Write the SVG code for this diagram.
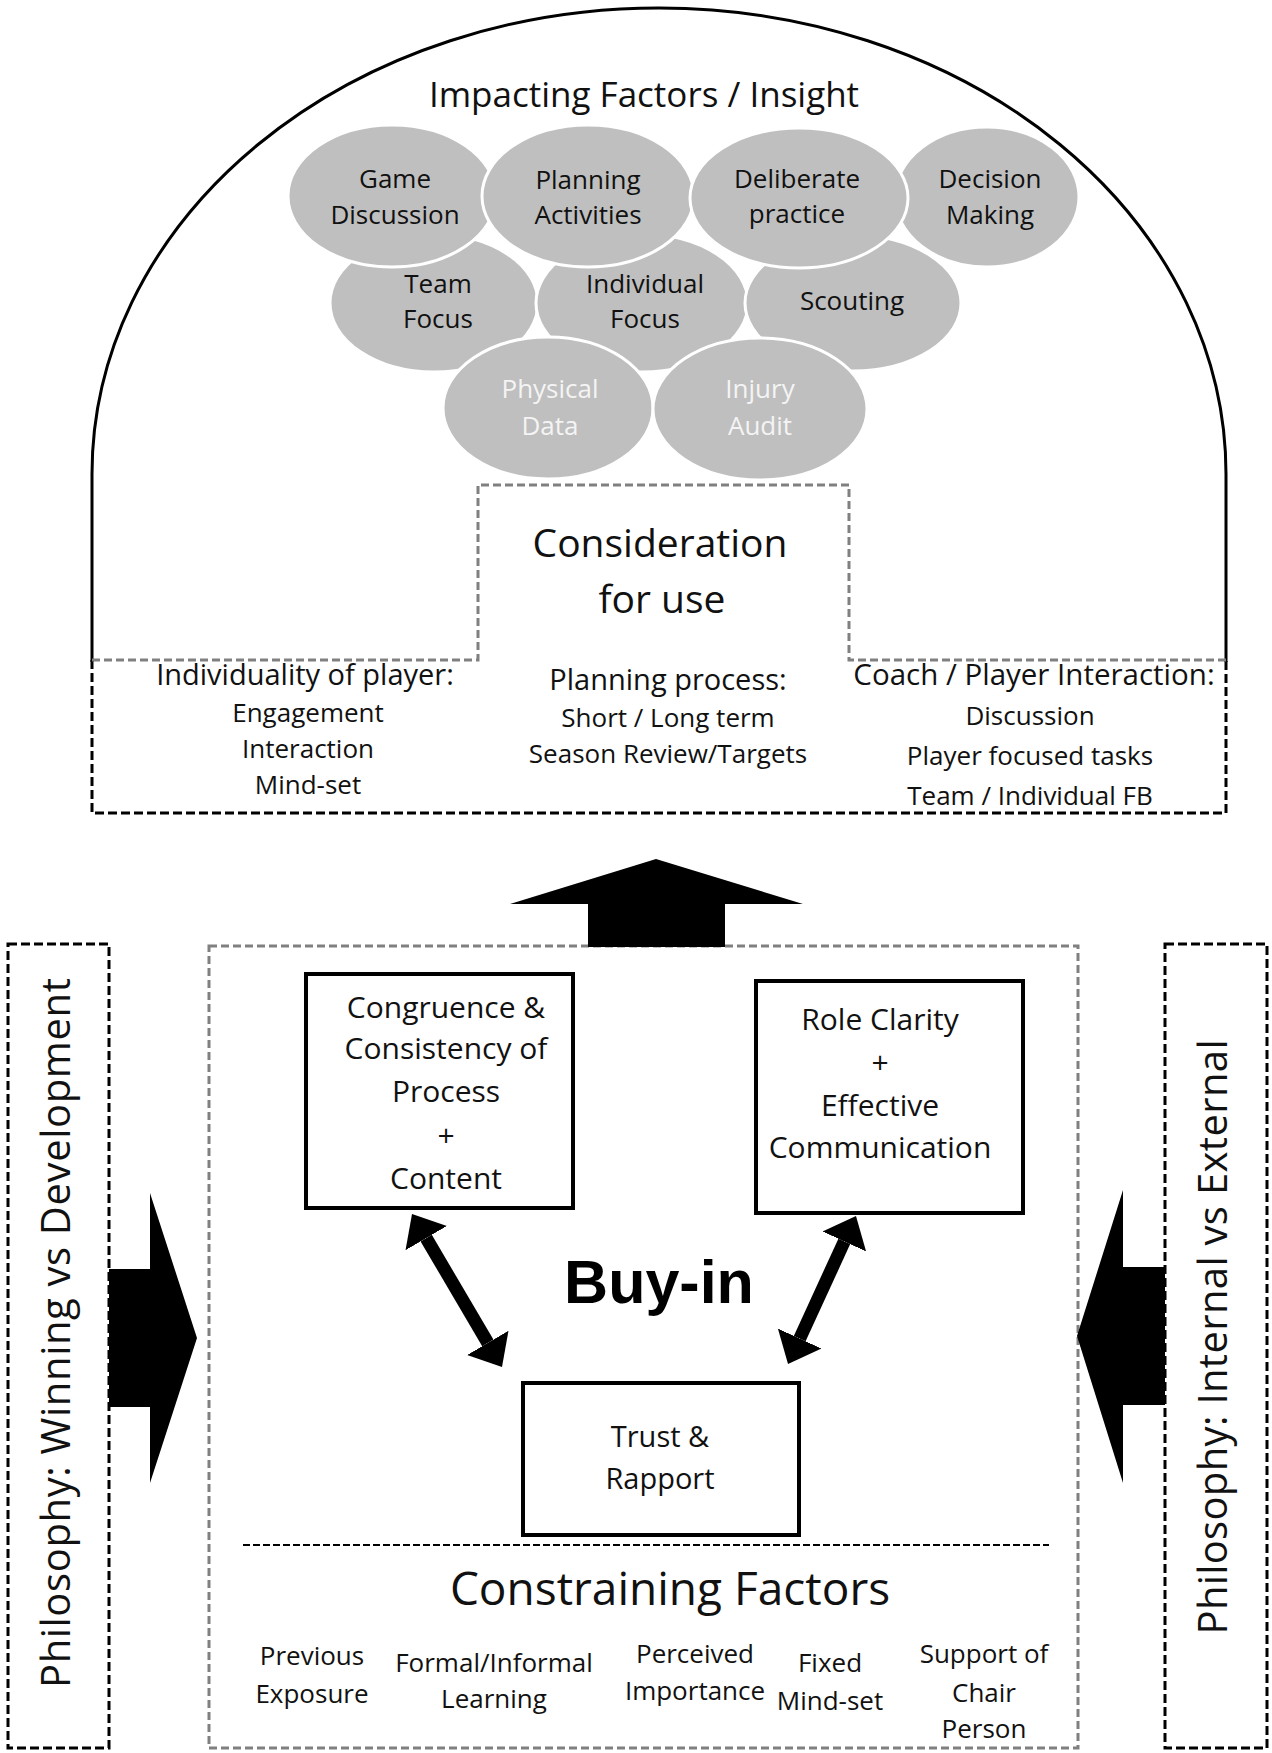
<svg xmlns="http://www.w3.org/2000/svg" width="1272" height="1753" viewBox="0 0 1272 1753">
<style>
  .t { font-family: "Open Sans", "Liberation Sans", sans-serif; fill: #111; text-anchor: middle; }
  .tw { font-family: "Open Sans", "Liberation Sans", sans-serif; fill: #f4f4f4; text-anchor: middle; }
  .c26 { font-size: 26px; }
  .circ { fill: #bfbfbf; stroke: #ffffff; stroke-width: 3; }
  .box { fill: #ffffff; stroke: #000; stroke-width: 4; }
  .gdash { fill: none; stroke: #808080; stroke-width: 3; stroke-dasharray: 8 4; }
  .bdash { fill: none; stroke: #000; stroke-width: 3; stroke-dasharray: 9 4; }
  .solid { fill: none; stroke: #000; stroke-width: 3; }
  .block { fill: #000; stroke: none; }
  .dbl { stroke: #000; stroke-width: 13; fill: none; marker-start: url(#head); marker-end: url(#head); }
</style>
<defs>
  <marker id="head" markerUnits="userSpaceOnUse" viewBox="0 -25 30 50" refX="0" refY="0" markerWidth="30" markerHeight="50" orient="auto-start-reverse">
    <path d="M0,-24 L28,0 L0,24 Z" fill="#000"/>
  </marker>
</defs>
<rect x="0" y="0" width="1272" height="1753" fill="#ffffff"/>

<!-- Top panel: Impacting Factors / Insight -->
<g id="impacting-panel">
  <path class="solid" d="M92,662 L92,474 A567,466 0 0 1 1226,474 L1226,662"/>
  <path class="bdash" d="M92,660 L92,813 L1226,813 L1226,660"/>
  <text class="t" x="644" y="107" font-size="35">Impacting Factors / Insight</text>
</g>

<g id="team-focus">
  <ellipse class="circ" cx="434" cy="303" rx="104" ry="69"/>
  <text class="t c26" x="438" y="293">Team</text>
  <text class="t c26" x="438" y="328">Focus</text>
</g>
<g id="individual-focus">
  <ellipse class="circ" cx="642" cy="303" rx="106" ry="69"/>
  <text class="t c26" x="645" y="293">Individual</text>
  <text class="t c26" x="645" y="328">Focus</text>
</g>
<g id="scouting">
  <ellipse class="circ" cx="853" cy="303" rx="108" ry="68"/>
  <text class="t c26" x="852" y="310">Scouting</text>
</g>
<g id="physical-data">
  <ellipse class="circ" cx="548" cy="408" rx="105" ry="71"/>
  <text class="tw c26" x="550" y="398">Physical</text>
  <text class="tw c26" x="550" y="435">Data</text>
</g>
<g id="injury-audit">
  <ellipse class="circ" cx="760" cy="409" rx="107" ry="71"/>
  <text class="tw c26" x="760" y="398">Injury</text>
  <text class="tw c26" x="760" y="435">Audit</text>
</g>
<g id="game-discussion">
  <ellipse class="circ" cx="392" cy="196" rx="104" ry="71"/>
  <text class="t c26" x="395" y="188">Game</text>
  <text class="t c26" x="395" y="224">Discussion</text>
</g>
<g id="planning-activities">
  <ellipse class="circ" cx="588" cy="196" rx="106" ry="71"/>
  <text class="t c26" x="588" y="189">Planning</text>
  <text class="t c26" x="588" y="224">Activities</text>
</g>
<g id="decision-making">
  <ellipse class="circ" cx="987" cy="197" rx="92" ry="70"/>
  <text class="t c26" x="990" y="188">Decision</text>
  <text class="t c26" x="990" y="224">Making</text>
</g>
<g id="deliberate-practice">
  <ellipse class="circ" cx="799" cy="198" rx="109" ry="70"/>
  <text class="t c26" x="797" y="188">Deliberate</text>
  <text class="t c26" x="797" y="223">practice</text>
</g>

<g id="consideration-for-use">
  <path class="gdash" d="M92,660 L478,660 L478,485 L849,485 L849,660 L1226,660"/>
  <text class="t" x="660" y="557" font-size="39">Consideration</text>
  <text class="t" x="662" y="613" font-size="39">for use</text>
</g>

<g id="individuality">
  <text class="t" x="305" y="685" font-size="29">Individuality of player:</text>
  <text class="t c26" x="308" y="722">Engagement</text>
  <text class="t c26" x="308" y="758">Interaction</text>
  <text class="t c26" x="308" y="794">Mind-set</text>
</g>
<g id="planning-process">
  <text class="t" x="668" y="690" font-size="29">Planning process:</text>
  <text class="t c26" x="668" y="727">Short / Long term</text>
  <text class="t c26" x="668" y="763">Season Review/Targets</text>
</g>
<g id="coach-player">
  <text class="t" x="1034" y="685" font-size="29.5">Coach / Player Interaction:</text>
  <text class="t c26" x="1030" y="725">Discussion</text>
  <text class="t c26" x="1030" y="765">Player focused tasks</text>
  <text class="t c26" x="1030" y="805">Team / Individual FB</text>
</g>

<!-- Lower panel -->
<g id="philosophy-winning">
  <rect class="bdash" x="8" y="944" width="101" height="804"/>
  <text class="t" font-size="40" transform="translate(70,1333) rotate(-90)" x="0" y="0" textLength="710" lengthAdjust="spacing">Philosophy: Winning vs Development</text>
</g>
<g id="philosophy-internal">
  <rect class="bdash" x="1165" y="944" width="102" height="804"/>
  <text class="t" font-size="40" transform="translate(1227,1337) rotate(-90)" x="0" y="0" textLength="595" lengthAdjust="spacing">Philosophy: Internal vs External</text>
</g>
<g id="buy-in">
  <rect class="gdash" x="209" y="946" width="869" height="802"/>
  <text x="659" y="1303" font-family="'Liberation Sans', Arial, sans-serif" font-weight="bold" font-size="61" text-anchor="middle" fill="#000">Buy-in</text>
</g>
<g id="congruence">
  <rect class="box" x="306" y="974" width="267" height="234"/>
  <text class="t" font-size="30" x="446" y="1018">Congruence &amp;</text>
  <text class="t" font-size="30" x="446" y="1059">Consistency of</text>
  <text class="t" font-size="30" x="446" y="1102">Process</text>
  <text class="t" font-size="30" x="446" y="1146">+</text>
  <text class="t" font-size="30" x="446" y="1189">Content</text>
</g>
<g id="role-clarity">
  <rect class="box" x="756" y="981" width="267" height="232"/>
  <text class="t" font-size="30" x="880" y="1030">Role Clarity</text>
  <text class="t" font-size="30" x="880" y="1073">+</text>
  <text class="t" font-size="30" x="880" y="1116">Effective</text>
  <text class="t" font-size="30" x="880" y="1158">Communication</text>
</g>
<g id="trust-rapport">
  <rect class="box" x="523" y="1383" width="276" height="152"/>
  <text class="t" font-size="29" x="660" y="1447">Trust &amp;</text>
  <text class="t" font-size="29" x="660" y="1489">Rapport</text>
</g>
<g id="constraining-factors">
  <line x1="243" y1="1545" x2="1049" y2="1545" stroke="#000" stroke-width="2" stroke-dasharray="7 3"/>
  <text class="t" font-size="46" x="670" y="1605">Constraining Factors</text>
  <text class="t c26" x="312" y="1665">Previous</text>
  <text class="t c26" x="312" y="1703">Exposure</text>
  <text class="t c26" x="494" y="1672">Formal/Informal</text>
  <text class="t c26" x="494" y="1708">Learning</text>
  <text class="t c26" x="695" y="1663">Perceived</text>
  <text class="t c26" x="695" y="1700">Importance</text>
  <text class="t c26" x="830" y="1672">Fixed</text>
  <text class="t c26" x="830" y="1710">Mind-set</text>
  <text class="t c26" x="984" y="1663">Support of</text>
  <text class="t c26" x="984" y="1702">Chair</text>
  <text class="t c26" x="984" y="1738">Person</text>
</g>

<g id="connectors">
  <polygon class="block" points="588,947 725,947 725,904 803,904 656,859 510,904 588,904"/>
  <polygon class="block" points="109,1269 150,1269 150,1193 197,1338 150,1483 150,1407 109,1407"/>
  <polygon class="block" points="1165,1267 1123,1267 1123,1190 1077,1336 1123,1483 1123,1405 1165,1405"/>
  <line class="dbl" x1="426.2" y1="1238.1" x2="487.8" y2="1342.9"/>
  <line class="dbl" x1="844.3" y1="1241.4" x2="799.7" y2="1338.6"/>
</g>
</svg>
